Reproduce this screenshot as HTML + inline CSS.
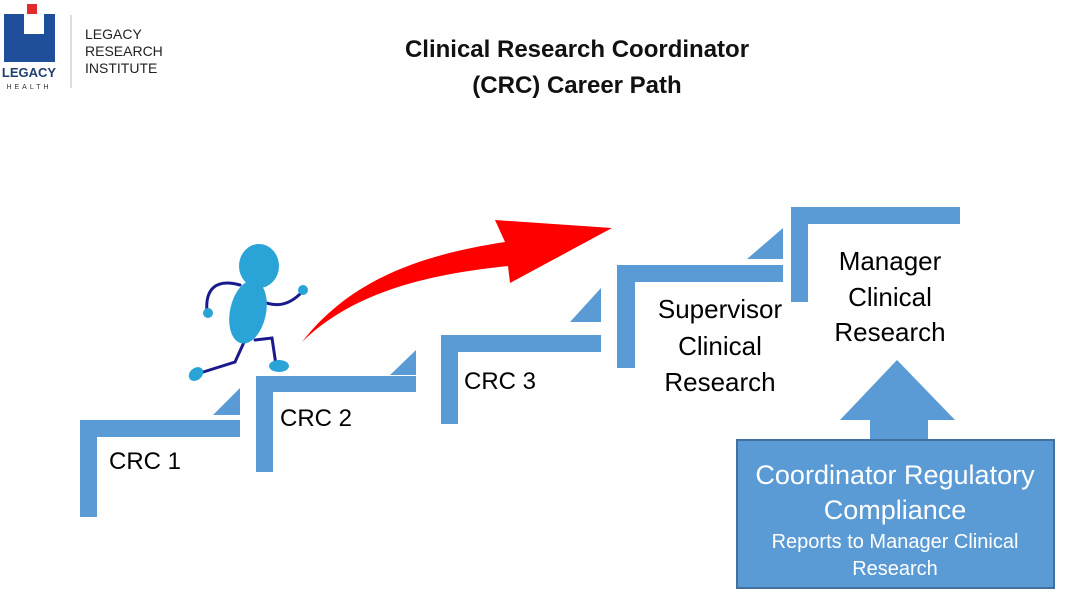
<!DOCTYPE html>
<html><head><meta charset="utf-8"><style>
body{margin:0;background:#fff}
svg{display:block}
text{font-family:"Liberation Sans","DejaVu Sans",sans-serif}
</style></head><body>
<svg width="1066" height="598" viewBox="0 0 1066 598" xmlns="http://www.w3.org/2000/svg">
<!-- logo -->
<rect x="27" y="4" width="10" height="10" fill="#e32b2b"/>
<path d="M4 14 H24 V34 H44 V14 H55 V62 H4 Z" fill="#1f4e9a"/>
<text x="29" y="77" font-size="13" text-anchor="middle" fill="#1f3f6e" font-weight="bold">LEGACY</text>
<text x="29" y="89" font-size="7" text-anchor="middle" letter-spacing="3" fill="#333">HEALTH</text>
<line x1="71" y1="15" x2="71" y2="88" stroke="#bbb" stroke-width="1"/>
<text x="85" y="39" font-size="14" fill="#222">LEGACY</text>
<text x="85" y="56" font-size="14" fill="#222">RESEARCH</text>
<text x="85" y="73" font-size="14" fill="#222">INSTITUTE</text>
<!-- title -->
<text x="577" y="57" font-size="24" font-weight="bold" text-anchor="middle" fill="#111">Clinical Research Coordinator</text>
<text x="577" y="93" font-size="24" font-weight="bold" text-anchor="middle" fill="#111">(CRC) Career Path</text>
<g fill="#5b9bd5">
<rect x="80" y="420" width="17" height="97"/><rect x="80" y="420" width="160" height="17"/>
<polygon points="240,388 240,415 213,415"/>
<rect x="256" y="376" width="17" height="96"/><rect x="256" y="376" width="160" height="16"/>
<polygon points="416,350 416,375 390,375"/>
<rect x="441" y="335" width="17" height="89"/><rect x="441" y="335" width="160" height="17"/>
<polygon points="601,288 601,322 570,322"/>
<rect x="617" y="265" width="18" height="103"/><rect x="617" y="265" width="166" height="17"/>
<polygon points="783,228 783,259 747,259"/>
<rect x="791" y="207" width="17" height="95"/><rect x="791" y="207" width="169" height="17"/>
<polygon points="897,360 955,420 928,420 928,442 870,442 870,420 840,420"/>
</g>
<rect x="737" y="440" width="317" height="148" fill="#5b9bd5" stroke="#41719c" stroke-width="2"/>
<g fill="#000" font-size="24" text-anchor="middle">
<text x="145" y="469">CRC 1</text>
<text x="316" y="426">CRC 2</text>
<text x="500" y="389">CRC 3</text>
</g>
<g fill="#000" font-size="26" text-anchor="middle">
<text x="720" y="318">Supervisor</text>
<text x="720" y="355">Clinical</text>
<text x="720" y="391">Research</text>
<text x="890" y="270">Manager</text>
<text x="890" y="306">Clinical</text>
<text x="890" y="341">Research</text>
</g>
<g fill="#fff" text-anchor="middle">
<text x="895" y="484" font-size="27">Coordinator Regulatory</text>
<text x="895" y="519" font-size="27">Compliance</text>
<text x="895" y="548" font-size="20">Reports to Manager Clinical</text>
<text x="895" y="575" font-size="20">Research</text>
</g>
<!-- red arrow -->
<path d="M302 342 C350 280 420 255 505 242 L495 220 L612 228 L510 283 L508 266 C420 275 350 295 302 342 Z" fill="#ff0000"/>
<!-- runner -->
<g stroke="#1a1a8c" stroke-width="3" fill="none" stroke-linecap="round">
<path d="M240 285 C215 278 205 290 207 312"/>
<path d="M258 300 C270 305 285 310 302 292"/>
<path d="M245 340 L235 362 L200 373"/>
<path d="M255 340 L272 338 L276 365"/>
</g>
<g fill="#2aa3d6">
<ellipse cx="259" cy="266" rx="20" ry="22"/>
<ellipse cx="248" cy="312" rx="18" ry="32" transform="rotate(12 248 312)"/>
<circle cx="208" cy="313" r="5"/>
<circle cx="303" cy="290" r="5"/>
<ellipse cx="196" cy="374" rx="8" ry="6" transform="rotate(-40 196 374)"/>
<ellipse cx="279" cy="366" rx="10" ry="6"/>
</g>
</svg>
</body></html>
